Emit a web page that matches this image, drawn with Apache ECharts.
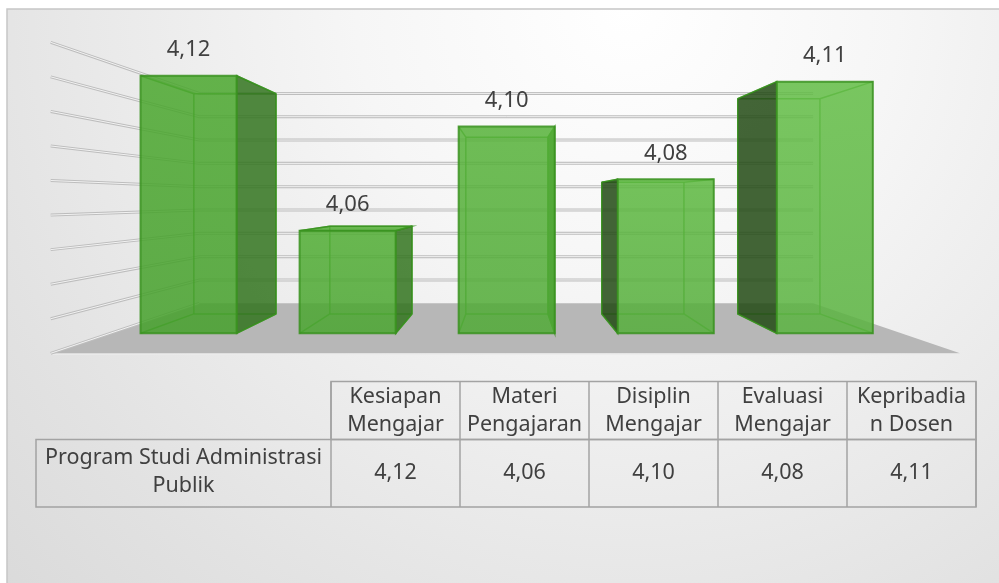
<!DOCTYPE html>
<html>
<head>
<meta charset="utf-8">
<script src="https://cdn.jsdelivr.net/npm/echarts@6/dist/echarts.min.js"></script>
<style>
  html, body { margin: 0; padding: 0; background: #fff; }
  #main { width: 999px; height: 583px; }
</style>
</head>
<body>
<div id="main"></div>
<script>
// data
const categories = ['Kesiapan\nMengajar', 'Materi\nPengajaran', 'Disiplin\nMengajar', 'Evaluasi\nMengajar', 'Kepribadia\nn Dosen'];
const seriesName = 'Program Studi Administrasi\nPublik';
const scores = [4.1152, 4.0579, 4.0964, 4.0769, 4.113];
const axisMin = 4.02;
const axisMax = 4.12;
const gridSteps = 9;

// perspective setup (front plane = grid, z=1 = back wall)
const VP = [508, 199.5];
const K = 0.4815;
const ZF = 0.31, ZB = 0.715;
const FLOOR_L = 50.7, FLOOR_R = 960;
const FONT = '"Noto Sans", "Open Sans", sans-serif';

const fmt = v => v.toFixed(2).replace('.', ',');

function proj(x, y, z) {
  const s = 1 / (1 + K * z);
  return [VP[0] + (x - VP[0]) * s, VP[1] + (y - VP[1]) * s];
}

function mix(a, b, t) {
  const pa = a.match(/\w\w/g).map(h => parseInt(h, 16));
  const pb = b.match(/\w\w/g).map(h => parseInt(h, 16));
  return 'rgb(' + pa.map((c, i) => Math.round(c + (pb[i] - c) * t)).join(',') + ')';
}

function renderWalls(params, api) {
  const children = [];
  const yb = api.coord([0, axisMin])[1];
  // floor
  children.push({
    type: 'polygon',
    shape: { points: [proj(FLOOR_L, yb, 0), proj(FLOOR_R, yb, 0), proj(FLOOR_R, yb, 1), proj(FLOOR_L, yb, 1)] },
    style: { fill: '#b7b7b7' }
  });
  children.push({
    type: 'line',
    shape: { x1: FLOOR_L, y1: yb + 1, x2: FLOOR_R, y2: yb + 1 },
    style: { stroke: '#ececec', lineWidth: 1 }
  });
  for (let k = 0; k <= gridSteps; k++) {
    const val = axisMin + (axisMax - axisMin) * k / gridSteps;
    const y = api.coord([0, val])[1];
    const a = proj(FLOOR_L, y, 0), b = proj(FLOOR_L, y, 1), c = proj(FLOOR_R, y, 1);
    const pts = k === 0 ? [a, b] : [a, b, c];
    children.push({ type: 'polyline', shape: { points: pts }, style: { stroke: '#bdbdbd', lineWidth: 3, fill: null } });
    children.push({ type: 'polyline', shape: { points: pts }, style: { stroke: '#f2f2f2', lineWidth: 1, fill: null } });
  }
  return { type: 'group', children };
}

function renderBar(params, api) {
  const i = api.value(0), v = api.value(1);
  const top = api.coord([i, v]);
  const base = api.coord([i, axisMin]);
  const half = api.size([1, 0])[0] * 0.604 / 2;
  const x0 = top[0] - half, x1 = top[0] + half, y0 = top[1], y1 = base[1];

  const fTL = proj(x0, y0, ZF), fTR = proj(x1, y0, ZF), fBL = proj(x0, y1, ZF), fBR = proj(x1, y1, ZF);
  const bTL = proj(x0, y0, ZB), bTR = proj(x1, y0, ZB), bBL = proj(x0, y1, ZB), bBR = proj(x1, y1, ZB);

  const t = Math.max(0, Math.min(1, (top[0] - 140) / 732));
  const front = mix('4aa72d', '62bd45', t);
  const frontLow = mix('45a02b', '5ab340', t);
  const edge = '#3a9220';
  const hidden = '#3f9a25';
  const leftOfVP = top[0] < VP[0];
  const sideFill = leftOfVP ? '#33741f' : '#224a14';

  const children = [];
  const line = (p, q) => ({ type: 'line', shape: { x1: p[0], y1: p[1], x2: q[0], y2: q[1] }, style: { stroke: hidden, lineWidth: 1.5, opacity: 0.8 } });
  // hidden edges (seen through)
  children.push(line(bTL, bTR), line(bBL, bBR), line(bTL, bBL), line(bTR, bBR));
  children.push(line(fTL, bTL), line(fTR, bTR), line(fBL, bBL), line(fBR, bBR));

  // side face toward the vanishing point
  const side = leftOfVP ? [fTR, bTR, bBR, fBR] : [fTL, bTL, bBL, fBL];
  children.push({ type: 'polygon', shape: { points: side }, style: { fill: sideFill, opacity: 0.85, stroke: edge, lineWidth: 1.5 } });
  // top face when below eye level
  if (y0 > VP[1]) {
    children.push({ type: 'polygon', shape: { points: [fTL, fTR, bTR, bTL] }, style: { fill: front, opacity: 0.85, stroke: edge, lineWidth: 1.5 } });
  }
  // front face
  children.push({
    type: 'polygon',
    shape: { points: [fTL, fTR, fBR, fBL] },
    style: {
      fill: new echarts.graphic.LinearGradient(0, 0, 0, 1, [{ offset: 0, color: front }, { offset: 1, color: frontLow }]),
      opacity: 0.85, stroke: edge, lineWidth: 2
    }
  });
  children.push({
    type: 'text',
    x: (fTL[0] + fTR[0]) / 2,
    y: fTL[1] - 26,
    style: { text: fmt(scores[i]), fill: '#404040', font: '22px ' + FONT, align: 'center', verticalAlign: 'middle' }
  });
  return { type: 'group', children };
}

// data table
const TBL_L = 36, TBL_C = 331, TBL_R = 976;
const TBL_T = 381.5, TBL_M = 439.5, TBL_B = 507;
const colW = (TBL_R - TBL_C) / categories.length;
const tableEls = [];
const border = { stroke: '#a3a3a3', lineWidth: 1.5, fill: null };
tableEls.push({ type: 'rect', shape: { x: TBL_C, y: TBL_T, width: TBL_R - TBL_C, height: TBL_M - TBL_T }, style: border });
tableEls.push({ type: 'rect', shape: { x: TBL_L, y: TBL_M, width: TBL_R - TBL_L, height: TBL_B - TBL_M }, style: border });
for (let c = 0; c <= categories.length; c++) {
  const x = TBL_C + c * colW;
  tableEls.push({ type: 'line', shape: { x1: x, y1: TBL_T, x2: x, y2: TBL_B }, style: border });
}
categories.forEach((cat, c) => {
  const cx = TBL_C + (c + 0.5) * colW;
  tableEls.push({ type: 'text', x: cx, y: (TBL_T + TBL_M) / 2, style: { text: cat, fill: '#404040', font: '21.5px ' + FONT, lineHeight: 28, align: 'center', verticalAlign: 'middle' } });
  tableEls.push({ type: 'text', x: cx, y: (TBL_M + TBL_B) / 2, style: { text: fmt(scores[c]), fill: '#404040', font: '21.5px ' + FONT, align: 'center', verticalAlign: 'middle' } });
});
tableEls.push({ type: 'text', x: (TBL_L + TBL_C) / 2, y: (TBL_M + TBL_B) / 2 - 1, style: { text: seriesName, fill: '#404040', font: '21.5px ' + FONT, lineHeight: 28, align: 'center', verticalAlign: 'middle' } });

const chart = echarts.init(document.getElementById('main'));
chart.setOption({
  animation: false,
  grid: { left: 49.5, right: 35.5, top: 42.3, bottom: 229.7 },
  xAxis: { type: 'category', data: categories, show: false },
  yAxis: { type: 'value', min: axisMin, max: axisMax, show: false },
  graphic: [
    {
      type: 'rect', z: -10, silent: true,
      shape: { x: 7, y: 9, width: 1000, height: 600 },
      style: {
        fill: new echarts.graphic.RadialGradient(0.62, 0, 1.5, [
          { offset: 0, color: '#ffffff' },
          { offset: 0.3, color: '#f6f6f6' },
          { offset: 0.75, color: '#e2e2e2' },
          { offset: 1, color: '#d8d8d8' }
        ]),
        stroke: '#c6c6c6', lineWidth: 1.5
      }
    },
    { type: 'group', z: 10, children: tableEls }
  ],
  series: [
    { type: 'custom', name: 'walls', z: 1, silent: true, data: [[0, axisMin]], renderItem: renderWalls },
    { type: 'custom', name: seriesName, z: 2, data: scores.map((v, i) => [i, v]), renderItem: renderBar, encode: { x: 0, y: 1 } }
  ]
});
</script>
</body>
</html>
